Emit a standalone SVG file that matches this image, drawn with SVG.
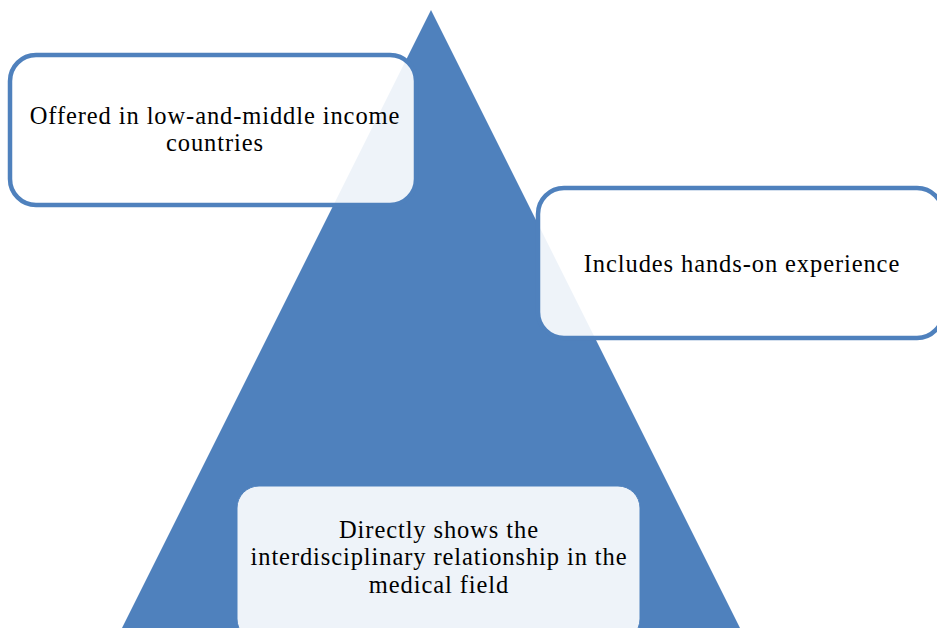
<svg xmlns="http://www.w3.org/2000/svg" width="937" height="628" viewBox="0 0 937 628">
<style>
.box{fill:#ffffff;fill-opacity:0.9;stroke:#4F81BD;stroke-width:4.5}
.t{font-family:"Liberation Serif","Times New Roman",serif;font-size:24.5px;letter-spacing:0.9px;fill:#000;text-anchor:middle}
</style>
<rect width="937" height="628" fill="#ffffff"/>
<g id="triangle"><polygon points="431,10 740,628 122,628" fill="#4F81BD"/></g>
<g id="connectors"></g>
<g id="node1">
<rect class="box" x="10" y="55" width="406" height="150" rx="26"/>
<text class="t" x="215" y="124">Offered in low-and-middle income</text>
<text class="t" x="215" y="151">countries</text>
</g>
<g id="node2">
<rect class="box" x="538" y="188" width="405" height="150" rx="26"/>
<text class="t" x="742" y="272">Includes hands-on experience</text>
</g>
<g id="node3">
<rect class="box" x="237" y="486" width="403" height="155" rx="22" style="stroke:#4F81BD;stroke-width:1"/>
<text class="t" x="439" y="538">Directly shows the</text>
<text class="t" x="439" y="565">interdisciplinary relationship in the</text>
<text class="t" x="439" y="593">medical field</text>
</g>
</svg>
